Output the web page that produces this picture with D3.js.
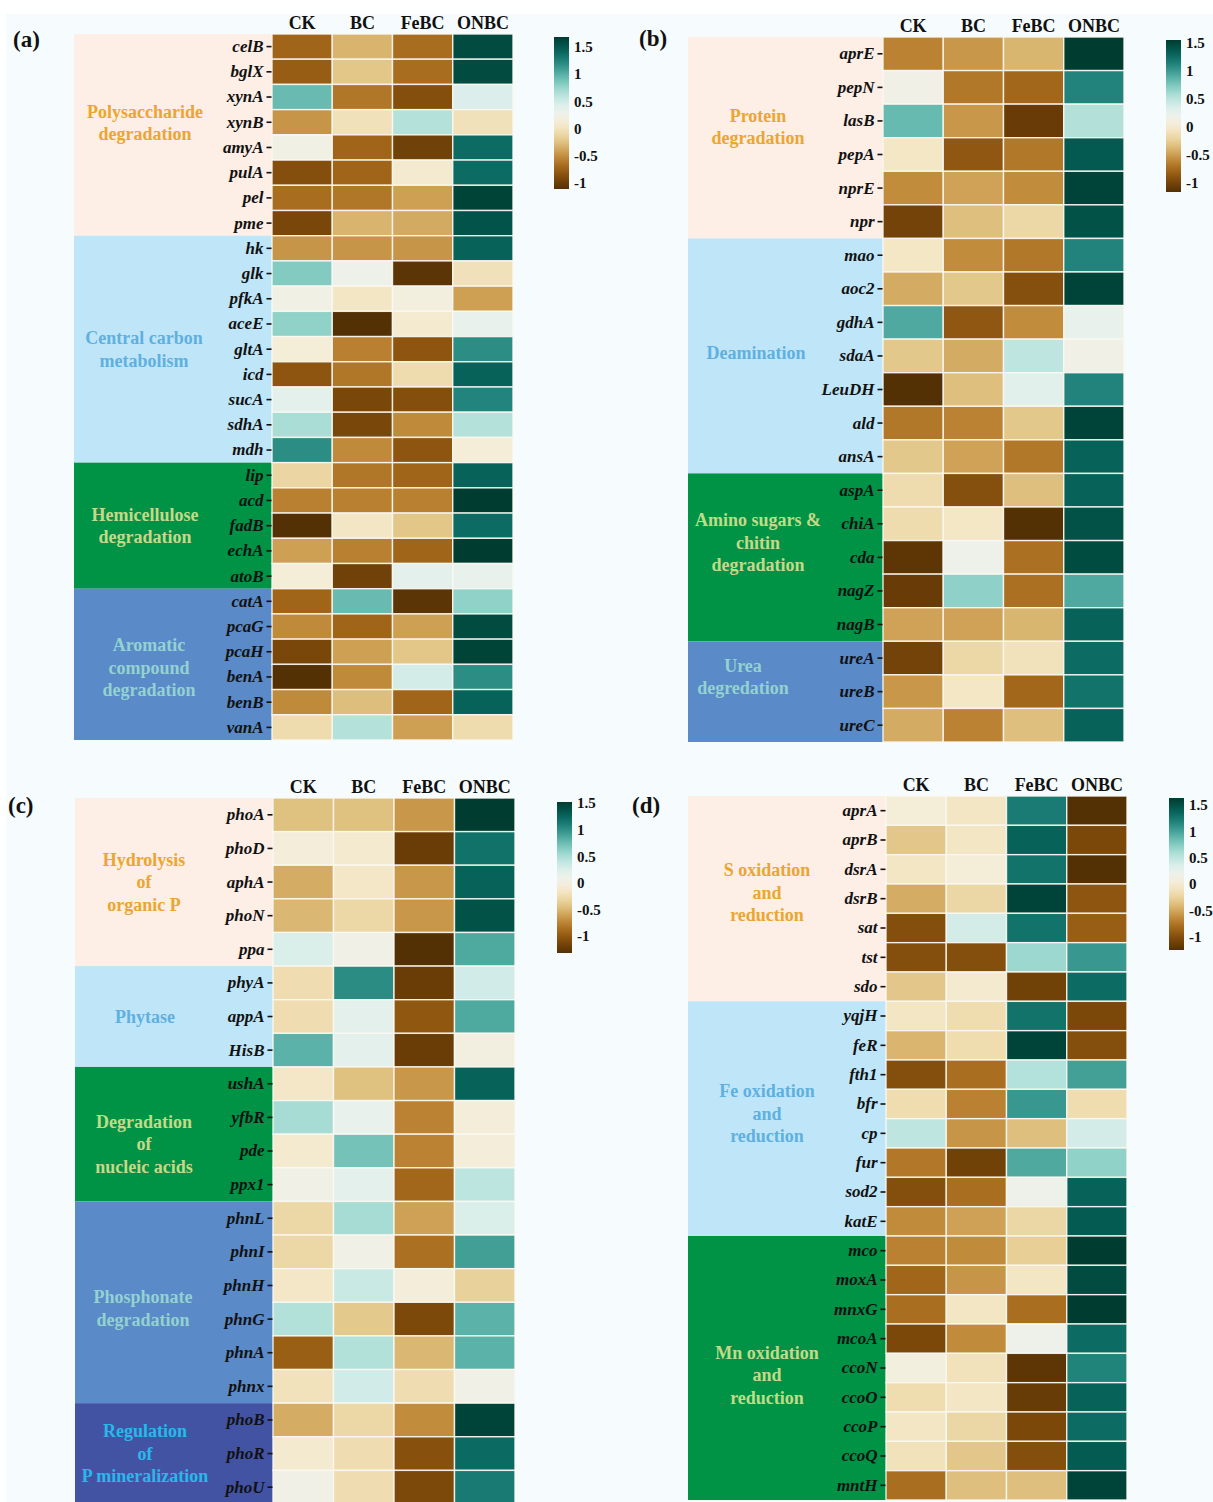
<!DOCTYPE html>
<html>
<head>
<meta charset="utf-8">
<script src="https://cdn.jsdelivr.net/npm/d3@7"></script>
<style>
  html, body { margin: 0; padding: 0; background: #ffffff; }
  svg { display: block; }
  text { font-family: "Liberation Serif", "Times New Roman", serif; }
</style>
</head>
<body>
<svg id="chart" width="1213" height="1502"></svg>
<script>
// ---- shared categories ----
const columns = ["CK", "BC", "FeBC", "ONBC"];
const legendTicks = [-1, -0.5, 0, 0.5, 1, 1.5];
const panelTags = ["(a)", "(b)", "(c)", "(d)"];

// ---- (a) carbon-cycle genes ----
const genesA = ["celB","bglX","xynA","xynB","amyA","pulA","pel","pme",
  "hk","glk","pfkA","aceE","gltA","icd","sucA","sdhA","mdh",
  "lip","acd","fadB","echA","atoB",
  "catA","pcaG","pcaH","benA","benB","vanA"];
const valuesA = [
  [-0.72,-0.32,-0.67,1.58],[-0.77,-0.22,-0.67,1.58],[0.93,-0.62,-0.87,0.43],[-0.47,-0.02,0.63,-0.02],
  [0.23,-0.72,-0.97,1.38],[-0.87,-0.72,0.08,1.38],[-0.67,-0.62,-0.42,1.63],[-0.92,-0.32,-0.37,1.53],
  [-0.47,-0.47,-0.47,1.43],[0.83,0.28,-1.07,-0.02],[0.23,0.03,0.18,-0.42],[0.78,-1.11,0.08,0.33],
  [0.13,-0.57,-0.82,1.18],[-0.82,-0.62,-0.07,1.43],[0.38,-0.92,-0.87,1.23],[0.68,-0.92,-0.52,0.63],
  [1.18,-0.52,-0.82,0.13],
  [-0.12,-0.62,-0.72,1.43],[-0.57,-0.57,-0.57,1.68],[-1.11,0.03,-0.22,1.38],[-0.42,-0.57,-0.72,1.68],
  [0.13,-0.97,0.38,0.33],
  [-0.72,0.93,-1.07,0.78],[-0.52,-0.72,-0.42,1.58],[-0.92,-0.42,-0.22,1.63],[-1.11,-0.52,0.48,1.18],
  [-0.52,-0.27,-0.72,1.43],[-0.07,0.63,-0.42,-0.07]
];
const groupsA = [
  { name: ["Polysaccharide", "degradation"], size: 8, kind: 0 },
  { name: ["Central carbon", "metabolism"], size: 9, kind: 1 },
  { name: ["Hemicellulose", "degradation"], size: 5, kind: 2 },
  { name: ["Aromatic", "compound", "degradation"], size: 6, kind: 3 }
];

// ---- (b) nitrogen-cycle genes ----
const genesB = ["aprE","pepN","lasB","pepA","nprE","npr",
  "mao","aoc2","gdhA","sdaA","LeuDH","ald","ansA",
  "aspA","chiA","cda","nagZ","nagB",
  "ureA","ureB","ureC"];
const valuesB = [
  [-0.63,-0.53,-0.39,1.54],[0.14,-0.68,-0.77,1.11],[0.82,-0.53,-1.06,0.53],[-0.05,-0.87,-0.68,1.35],
  [-0.58,-0.48,-0.58,1.49],[-1.01,-0.34,-0.19,1.40],
  [-0.05,-0.58,-0.68,1.11],[-0.44,-0.29,-0.92,1.49],[0.91,-0.87,-0.58,0.24],[-0.29,-0.44,0.48,0.14],
  [-1.16,-0.34,0.29,1.11],[-0.68,-0.63,-0.29,1.49],[-0.29,-0.48,-0.68,1.30],
  [-0.15,-0.92,-0.34,1.30],[-0.15,-0.05,-1.16,1.40],[-1.11,0.19,-0.72,1.44],[-1.06,0.67,-0.72,0.91],
  [-0.48,-0.48,-0.39,1.30],
  [-1.01,-0.19,-0.10,1.25],[-0.53,-0.05,-0.77,1.20],[-0.44,-0.63,-0.34,1.30]
];
const groupsB = [
  { name: ["Protein", "degradation"], size: 6, kind: 0 },
  { name: ["Deamination"], size: 7, kind: 1 },
  { name: ["Amino sugars &", "chitin", "degradation"], size: 5, kind: 2 },
  { name: ["Urea", "degredation"], size: 3, kind: 3 }
];

// ---- (c) phosphorus-cycle genes ----
const genesC = ["phoA","phoD","aphA","phoN","ppa",
  "phyA","appA","HisB",
  "ushA","yfbR","pde","ppx1",
  "phnL","phnI","phnH","phnG","phnA","phnx",
  "phoB","phoR","phoU"];
const valuesC = [
  [-0.45,-0.45,-0.66,1.52],[-0.05,-0.10,-1.21,1.17],[-0.56,-0.15,-0.66,1.27],[-0.50,-0.30,-0.66,1.37],
  [0.26,0.05,-1.32,0.86],
  [-0.25,1.02,-1.21,0.31],[-0.25,0.20,-1.01,0.86],[0.81,0.20,-1.21,0.00],
  [-0.15,-0.45,-0.66,1.27],[0.51,0.15,-0.76,-0.05],[-0.10,0.71,-0.76,-0.05],[0.05,0.20,-0.91,0.41],
  [-0.30,0.51,-0.61,0.26],[-0.30,0.05,-0.86,0.91],[-0.15,0.36,-0.05,-0.35],[0.46,-0.40,-1.11,0.81],
  [-0.96,0.46,-0.50,0.81],[-0.20,0.31,-0.25,0.05],
  [-0.56,-0.30,-0.71,1.47],[-0.10,-0.25,-1.06,1.22],[0.05,-0.25,-1.11,1.12]
];
const groupsC = [
  { name: ["Hydrolysis", "of", "organic P"], size: 5, kind: 0 },
  { name: ["Phytase"], size: 3, kind: 1 },
  { name: ["Degradation", "of", "nucleic acids"], size: 4, kind: 2 },
  { name: ["Phosphonate", "degradation"], size: 6, kind: 3 },
  { name: ["Regulation", "of", "P mineralization"], size: 3, kind: 4 }
];

// ---- (d) sulfur / iron / manganese genes ----
const genesD = ["aprA","aprB","dsrA","dsrB","sat","tst","sdo",
  "yqjH","feR","fth1","bfr","cp","fur","sod2","katE",
  "mco","moxA","mnxG","mcoA","ccoN","ccoO","ccoP","ccoQ","mntH"];
const valuesD = [
  [0.03,-0.07,1.22,-1.25],[-0.33,-0.07,1.37,-1.05],[-0.07,0.03,1.27,-1.25],[-0.48,-0.22,1.58,-0.95],
  [-1.00,0.39,1.27,-0.89],[-1.00,-1.00,0.65,1.06],[-0.33,-0.02,-1.10,1.32],
  [-0.07,-0.17,1.27,-1.05],[-0.43,-0.17,1.58,-1.00],[-1.00,-0.79,0.55,1.01],[-0.17,-0.69,1.06,-0.17],
  [0.50,-0.59,-0.38,0.39],[-0.74,-1.10,0.96,0.70],[-1.00,-0.79,0.19,1.37],[-0.64,-0.53,-0.22,1.42],
  [-0.69,-0.64,-0.28,1.63],[-0.84,-0.59,-0.07,1.53],[-0.79,-0.07,-0.79,1.63],[-1.05,-0.64,0.19,1.32],
  [0.08,-0.12,-1.20,1.17],[-0.17,-0.07,-1.15,1.37],[-0.07,-0.22,-1.05,1.32],[-0.12,-0.33,-1.00,1.42],
  [-0.79,-0.38,-0.38,1.58]
];
const groupsD = [
  { name: ["S oxidation", "and", "reduction"], size: 7, kind: 0 },
  { name: ["Fe oxidation", "and", "reduction"], size: 8, kind: 1 },
  { name: ["Mn oxidation", "and", "reduction"], size: 9, kind: 2 }
];

// ---- styling ----
const groupFill = ["#fdeee6", "#bee6f8", "#009245", "#5a8ac8", "#4353a3"];
const groupText = ["#eba62f", "#5fb0e0", "#c4da88", "#93d2d0", "#28b8ea"];

// ---- layout of the four panels ----
const layouts = [
  { genes: genesA, values: valuesA, groups: groupsA,
    hx0: 272, hx1: 513, hy0: 34, hy1: 740, gx0: 74, labelX: 145,
    labelDx: [0, -1, 0, 4], labelDy: [-12, 0, 0, 3],
    tagX: 13, tagY: 47, bar: { x: 554, y0: 37, y1: 189 } },
  { genes: genesB, values: valuesB, groups: groupsB,
    hx0: 883, hx1: 1124, hy0: 37, hy1: 742, gx0: 688, labelX: 758,
    labelDx: [0, -2, 0, -15], labelDy: [-11, -3, -15, -15],
    tagX: 639, tagY: 46, bar: { x: 1166, y0: 40, y1: 192 } },
  { genes: genesC, values: valuesC, groups: groupsC,
    hx0: 273, hx1: 515, hy0: 798, hy1: 1504, gx0: 75, labelX: 144,
    labelDx: [0, 1, 0, -1, 1], labelDy: [0, 0, 10, 6, 0],
    tagX: 8, tagY: 813, bar: { x: 557, y0: 802, y1: 953 } },
  { genes: genesD, values: valuesD, groups: groupsD,
    hx0: 886, hx1: 1127, hy0: 796, hy1: 1500, gx0: 688, labelX: 767,
    labelDx: [0, 0, 0], labelDy: [-6, -5, 7],
    tagX: 632, tagY: 813, bar: { x: 1169, y0: 798, y1: 950 } }
];

const svg = d3.select("#chart");
const defs = svg.append("defs");

// faint figure backdrop
svg.append("rect").attr("x", 6).attr("y", 14).attr("width", 1207).attr("height", 1488)
  .attr("fill", "#f6fcfd");

function drawPanel(p, idx) {
  const g = svg.append("g");
  const x = d3.scaleBand().domain(columns).range([p.hx0, p.hx1]);
  const y = d3.scaleBand().domain(p.genes).range([p.hy0, p.hy1]);
  const ext = d3.extent(p.values.flat());
  const color = d3.scaleSequential(d3.interpolateBrBG).domain(ext);

  // group side bands with their titles
  let start = 0;
  p.groups.forEach((gr, i) => {
    const y0 = y(p.genes[start]);
    const y1 = y(p.genes[start + gr.size - 1]) + y.bandwidth();
    g.append("rect")
      .attr("x", p.gx0).attr("y", y0)
      .attr("width", p.hx0 - p.gx0).attr("height", y1 - y0)
      .attr("fill", groupFill[gr.kind]);
    const cx = p.labelX + (p.labelDx[i] || 0);
    const cy = (y0 + y1) / 2 + (p.labelDy[i] || 0);
    const lh = 22.5;
    const t = g.append("text")
      .attr("text-anchor", "middle")
      .attr("font-size", 18).attr("font-weight", "bold")
      .attr("fill", groupText[gr.kind]);
    gr.name.forEach((ln, j) => {
      t.append("tspan")
        .attr("x", cx)
        .attr("y", cy + (j - (gr.name.length - 1) / 2) * lh)
        .attr("dy", "0.35em")
        .text(ln);
    });
    start += gr.size;
  });

  // heatmap cells
  const cells = [];
  p.genes.forEach((gene, r) => columns.forEach((col, c) => cells.push({ gene, col, v: p.values[r][c] })));
  g.append("g").selectAll("rect").data(cells).join("rect")
    .attr("x", d => x(d.col)).attr("y", d => y(d.gene))
    .attr("width", x.bandwidth()).attr("height", y.bandwidth())
    .attr("fill", d => color(d.v))
    .attr("stroke", "#faf8f2").attr("stroke-opacity", 0.9).attr("stroke-width", 1.4);

  // gene names on the left
  const ya = g.append("g").attr("transform", `translate(${p.hx0 - 0.5},0)`)
    .call(d3.axisLeft(y).tickSize(5).tickPadding(3));
  ya.select(".domain").remove();
  ya.selectAll(".tick line").attr("stroke", "#111").attr("stroke-width", 1.6);
  ya.selectAll(".tick text")
    .attr("font-family", "'Liberation Serif', serif")
    .attr("font-size", 17).attr("font-weight", "bold").attr("font-style", "italic")
    .attr("fill", "#111");

  // treatment headers on top
  const xa = g.append("g").attr("transform", `translate(0,${p.hy0})`)
    .call(d3.axisTop(x).tickSize(0).tickPadding(5));
  xa.select(".domain").remove();
  xa.selectAll(".tick text")
    .attr("font-family", "'Liberation Serif', serif")
    .attr("font-size", 18).attr("font-weight", "bold").attr("fill", "#111");

  // panel tag
  g.append("text").attr("x", p.tagX).attr("y", p.tagY)
    .attr("font-size", 23).attr("font-weight", "bold").attr("fill", "#111")
    .text(panelTags[idx]);

  // colour bar
  const gid = "bar" + idx;
  const grad = defs.append("linearGradient").attr("id", gid)
    .attr("x1", 0).attr("y1", 1).attr("x2", 0).attr("y2", 0);
  d3.range(0, 1.0001, 0.05).forEach(t => {
    grad.append("stop").attr("offset", t).attr("stop-color", d3.interpolateBrBG(t));
  });
  const bw = 15;
  g.append("rect").attr("x", p.bar.x).attr("y", p.bar.y0)
    .attr("width", bw).attr("height", p.bar.y1 - p.bar.y0)
    .attr("fill", `url(#${gid})`);
  const ls = d3.scaleLinear().domain(ext).range([p.bar.y1, p.bar.y0]);
  const la = g.append("g").attr("transform", `translate(${p.bar.x + bw},0)`)
    .call(d3.axisRight(ls).tickValues(legendTicks).tickFormat(d => String(d)).tickSize(0).tickPadding(5));
  la.select(".domain").remove();
  la.selectAll(".tick text")
    .attr("font-family", "'Liberation Serif', serif")
    .attr("font-size", 15).attr("font-weight", "bold").attr("fill", "#111");
}

layouts.forEach(drawPanel);
</script>
</body>
</html>
